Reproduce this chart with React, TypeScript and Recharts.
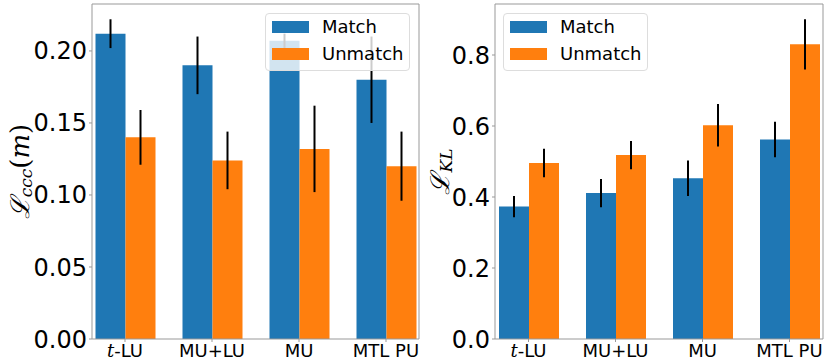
import React from "react";
import { BarChart, Bar, XAxis, YAxis, ErrorBar, Legend } from "recharts";

const categories = ["t-LU", "MU+LU", "MU", "MTL PU"];

const cccMatch = [0.212, 0.19, 0.207, 0.18];
const cccMatchErr = [0.01, 0.02, 0.005, 0.03];
const cccUnmatch = [0.14, 0.124, 0.132, 0.12];
const cccUnmatchErr = [0.019, 0.02, 0.03, 0.024];

const klMatch = [0.373, 0.411, 0.453, 0.562];
const klMatchErr = [0.03, 0.04, 0.05, 0.05];
const klUnmatch = [0.496, 0.518, 0.602, 0.83];
const klUnmatchErr = [0.04, 0.04, 0.06, 0.071];

const cccTicks = [0, 0.05, 0.1, 0.15, 0.2];
const klTicks = [0, 0.2, 0.4, 0.6, 0.8];

const BLUE = "#1f77b4";
const ORANGE = "#ff7f0e";
const FRAME = "#999999";
const FONT = "DejaVu Sans, sans-serif";

function buildRows(match: number[], matchErr: number[], unmatch: number[], unmatchErr: number[]) {
  return categories.map((cat, i) => ({
    cat,
    match: match[i],
    matchErr: matchErr[i],
    unmatch: unmatch[i],
    unmatchErr: unmatchErr[i],
  }));
}

const cccRows = buildRows(cccMatch, cccMatchErr, cccUnmatch, cccUnmatchErr);
const klRows = buildRows(klMatch, klMatchErr, klUnmatch, klUnmatchErr);

// x tick: "t" is set in math italic like the original
function CatTick({ x, y, payload }: any) {
  const v: string = payload.value;
  return (
    <text x={x} y={y} dy="0.71em" textAnchor="middle" fontSize={18} fontFamily={FONT} fill="#000">
      {v.startsWith("t-") ? (
        <>
          <tspan fontFamily="DejaVu Serif, serif" fontStyle="italic">t</tspan>
          <tspan>{v.slice(1)}</tspan>
        </>
      ) : (
        v
      )}
    </text>
  );
}

function YLabel({ viewBox, sub, arg }: any) {
  const cy = viewBox ? viewBox.y + viewBox.height / 2 : 171;
  return (
    <text
      transform={`translate(20, ${cy}) rotate(-90)`}
      textAnchor="middle"
      dominantBaseline="central"
      fontFamily="DejaVu Serif, serif"
      fontSize={26}
      fill="#000"
    >
      <tspan fontStyle="italic">ℒ</tspan>
      <tspan fontStyle="italic" fontSize={17} dy={6}>{sub}</tspan>
      {arg ? (
        <>
          <tspan dy={-6}>(</tspan>
          <tspan fontStyle="italic">{arg}</tspan>
          <tspan>)</tspan>
        </>
      ) : null}
    </text>
  );
}

function LegendBox() {
  const items = [
    { name: "Match", color: BLUE },
    { name: "Unmatch", color: ORANGE },
  ];
  return (
    <div
      style={{
        position: "relative",
        width: 145,
        height: 58,
        boxSizing: "border-box",
        border: "1px solid #dddddd",
        borderRadius: 4,
        background: "rgba(255,255,255,0.8)",
        fontFamily: FONT,
        fontSize: 18,
        color: "#000",
      }}
    >
      {items.map((it, i) => (
        <div key={it.name}>
          <span
            style={{
              position: "absolute",
              left: 6,
              top: 7 + i * 26.7,
              width: 37,
              height: 12,
              background: it.color,
            }}
          />
          <span style={{ position: "absolute", left: 56, top: 2 + i * 26.7, lineHeight: "22px" }}>{it.name}</span>
        </div>
      ))}
    </div>
  );
}

type PanelProps = {
  rows: any[];
  width: number;
  yWidth: number;
  marginRight: number;
  domainMax: number;
  ticks: number[];
  digits: number;
  pad: number;
  legendLeft: number;
  sub: string;
  arg?: string;
};

function Panel({ rows, width, yWidth, marginRight, domainMax, ticks, digits, pad, legendLeft, sub, arg }: PanelProps) {
  return (
    <BarChart
      width={width}
      height={363}
      data={rows}
      margin={{ top: 3, right: marginRight, left: 0, bottom: 0 }}
      barGap={0}
    >
      <XAxis
        dataKey="cat"
        height={24}
        padding={{ left: pad, right: pad }}
        axisLine={{ stroke: FRAME }}
        tickLine={{ stroke: FRAME }}
        tickSize={3}
        tick={<CatTick />}
        interval={0}
      />
      <XAxis xAxisId="top" dataKey="cat" orientation="top" height={1} tick={false} tickLine={false} axisLine={{ stroke: FRAME }} />
      <YAxis
        width={yWidth}
        domain={[0, domainMax]}
        ticks={ticks}
        allowDataOverflow
        tickFormatter={(v: number) => v.toFixed(digits)}
        tick={{ fontSize: 24, fontFamily: FONT, fill: "#000" }}
        tickSize={3}
        axisLine={{ stroke: FRAME }}
        tickLine={{ stroke: FRAME }}
        label={<YLabel sub={sub} arg={arg} />}
      />
      <YAxis yAxisId="right" orientation="right" width={1} domain={[0, domainMax]} tick={false} tickLine={false} axisLine={{ stroke: FRAME }} />
      <Legend
        layout="horizontal"
        verticalAlign="middle"
        align="center"
        wrapperStyle={{ left: legendLeft, top: 13, width: 145, height: 58 }}
        content={() => <LegendBox />}
      />
      <Bar dataKey="match" name="Match" fill={BLUE} barSize={30} isAnimationActive={false}>
        <ErrorBar dataKey="matchErr" width={0} stroke="#000" strokeWidth={2} direction="y" />
      </Bar>
      <Bar dataKey="unmatch" name="Unmatch" fill={ORANGE} barSize={30} isAnimationActive={false}>
        <ErrorBar dataKey="unmatchErr" width={0} stroke="#000" strokeWidth={2} direction="y" />
      </Bar>
    </BarChart>
  );
}

export default function App() {
  return (
    <div style={{ position: "absolute", left: 0, top: 0, width: 830, height: 363, background: "#fff" }}>
      <div style={{ position: "absolute", left: 0, top: 0 }}>
        <Panel
          rows={cccRows}
          width={420}
          yWidth={92}
          marginRight={0}
          domainMax={0.2326}
          ticks={cccTicks}
          digits={2}
          pad={-10.5}
          legendLeft={265}
          sub="ccc"
          arg="m"
        />
      </div>
      <div style={{ position: "absolute", left: 420, top: 0 }}>
        <Panel
          rows={klRows}
          width={410}
          yWidth={75}
          marginRight={6}
          domainMax={0.9437}
          ticks={klTicks}
          digits={1}
          pad={-10}
          legendLeft={83}
          sub="KL"
        />
      </div>
    </div>
  );
}
